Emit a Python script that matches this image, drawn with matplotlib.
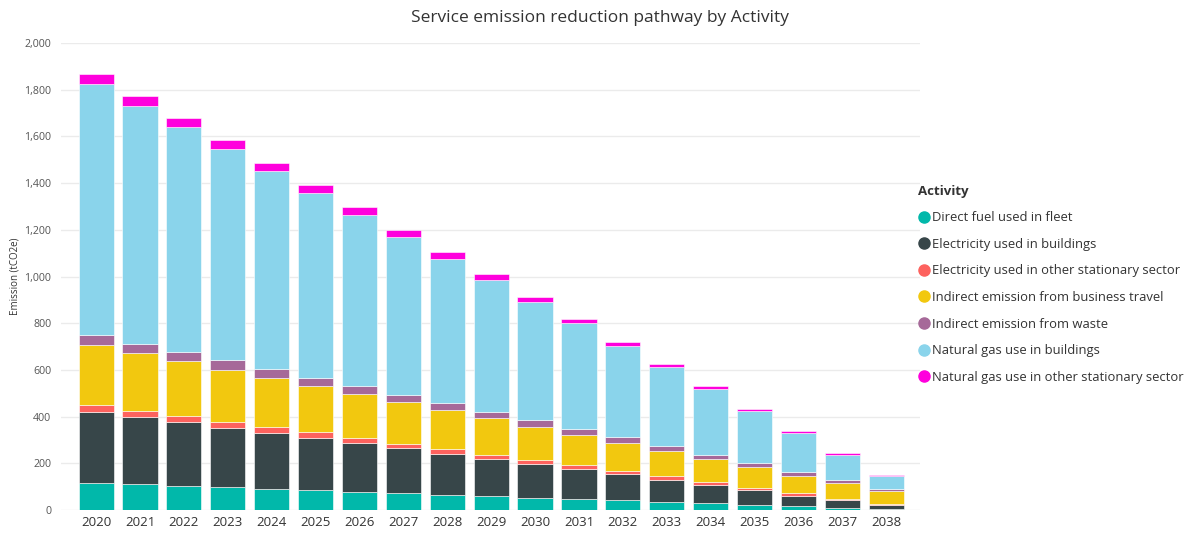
import matplotlib
matplotlib.use("Agg")
import matplotlib.pyplot as plt
from matplotlib.lines import Line2D
import numpy as np

plt.rcParams['font.family'] = ['Open Sans', 'DejaVu Sans']

years = [str(y) for y in range(2020, 2039)]
activities = [
    "Direct fuel used in fleet",
    "Electricity used in buildings",
    "Electricity used in other stationary sector",
    "Indirect emission from business travel",
    "Indirect emission from waste",
    "Natural gas use in buildings",
    "Natural gas use in other stationary sector",
]
colors = ["#01B8AA", "#374649", "#FD625E", "#F2C80F", "#A66999", "#8AD4EB", "#FF00DD"]

direct_fuel_fleet = [114, 110, 103, 97, 91, 84, 79, 71, 64, 59, 53, 47, 41, 34, 29, 21, 16, 10, 4]
electricity_buildings = [307, 289, 273, 256, 240, 226, 208, 193, 177, 160, 144, 127, 112, 96, 78, 63, 45, 31, 16]
electricity_other = [29, 27, 27, 26, 25, 24, 22, 20, 20, 18, 17, 17, 14, 14, 13, 12, 10, 8, 6]
business_travel = [257, 245, 234, 222, 211, 199, 188, 179, 166, 156, 143, 130, 120, 109, 97, 87, 76, 65, 54]
waste = [43, 42, 40, 40, 36, 34, 33, 31, 30, 28, 27, 26, 24, 21, 20, 17, 17, 13, 11]
gas_buildings = [1073, 1017, 962, 903, 847, 792, 734, 677, 620, 563, 507, 452, 393, 337, 280, 224, 166, 110, 53]
gas_other = [46, 44, 38, 39, 36, 31, 32, 29, 27, 25, 22, 18, 17, 15, 13, 10, 9, 7, 5]

series = [direct_fuel_fleet, electricity_buildings, electricity_other,
          business_travel, waste, gas_buildings, gas_other]

fig = plt.figure(figsize=(11.95, 5.33), dpi=100)
ax = fig.add_axes([61/1195, 1-510/533, (920-61)/1195, (510-43)/533])

x = np.arange(len(years))
bottom = np.zeros(len(years))
for vals, col, name in zip(series, colors, activities):
    ax.bar(x, vals, bottom=bottom, width=0.8, color=col, edgecolor="white",
           linewidth=0.4, label=name, zorder=3)
    bottom += np.array(vals)

ax.set_ylim(0, 2000)
ax.set_xlim(-0.80, 18.77)
ax.set_yticks(range(0, 2001, 200))
ax.set_yticklabels([f"{v:,}" for v in range(0, 2001, 200)], fontsize=7.7, color="#555555")
ax.set_xticks(x)
ax.set_xticklabels(years, fontsize=9.5, color="#333333")
ax.tick_params(axis="both", length=0)
ax.tick_params(axis="y", pad=7)
ax.tick_params(axis="x", pad=4)
ax.grid(axis="y", color="#EBEBEB", linewidth=1, zorder=0)
for s in ax.spines.values():
    s.set_visible(False)

fig.text(15/1195, 1-276/533, "Emission (tCO2e)", rotation=90, fontsize=7,
         color="#333333", ha="center", va="center")
fig.text(600/1195, 1-18/533, "Service emission reduction pathway by Activity",
         fontsize=12.5, color="#333333", ha="center", va="center")

handles = [Line2D([0], [0], marker="o", linestyle="", markersize=8,
                  markerfacecolor=c, markeredgecolor=c) for c in colors]
leg = fig.legend(handles, activities, loc="upper left",
                 bbox_to_anchor=(915/1195, 1-182/533), frameon=False,
                 title="Activity", fontsize=9.4, handletextpad=0.1,
                 handlelength=1.0, labelspacing=1.04, alignment="left",
                 borderaxespad=0, borderpad=0.2)
leg.get_title().set_fontweight("bold")
leg.get_title().set_fontsize(9.5)
leg.get_title().set_color("#333333")
for t in leg.get_texts():
    t.set_color("#333333")

fig.savefig("out.png", dpi=100)
